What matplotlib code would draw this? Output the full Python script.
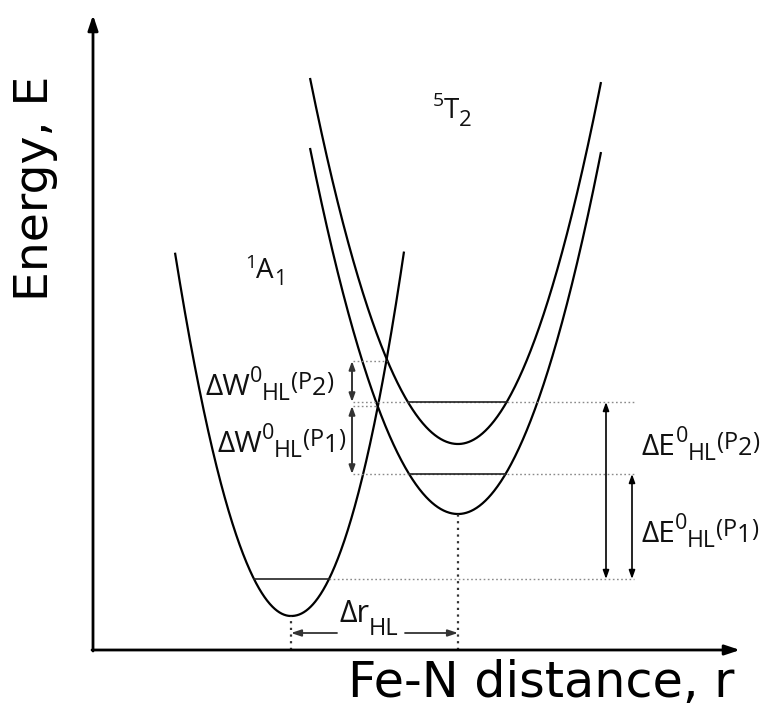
import matplotlib
matplotlib.use("Agg")
import matplotlib.pyplot as plt
import numpy as np
from matplotlib.transforms import offset_copy

# ---------------- data (arbitrary units: r and E measured from the axes origin) ----
states = ["1A1", "5T2(P1)", "5T2(P2)"]
r_eq = [198, 365, 365]          # equilibrium Fe-N distance
E_min = [34, 136, 206]          # minimum energy
k_left = [0.0270, 0.01671, 0.01671]
p_left = [2.0, 2.0, 2.0]
k_right = [0.01779, 0.0177, 0.0177]
p_right = [2.1, 2.0, 2.0]
r_start = [82, 217, 217]
r_end = [311, 508, 508]
E_zero_point = [71, 176, 248]   # zero-point levels (LS, HS P1, HS P2)
E_cross_P2 = 289                # LS / HS(P2) crossing
E_cross_P1 = 244                # LS / HS(P1) crossing
r_dim_left = 260                # start of dotted guide lines (left)
r_dim_right = 541               # end of dotted guide lines (right)
r_dW = 259                      # position of ΔW arrows
r_dE = [539, 513]               # positions of ΔE(P1), ΔE(P2) arrows
r_cross = [285, 294]            # crossing r for P1, P2
E_dr = 17                       # height of Δr arrow
r_axis_end = 647
E_axis_end = 635

fig = plt.figure(figsize=(7.73, 7.14), dpi=100)
ax = fig.add_axes([0, 0, 1, 1])
ax.set_xlim(-93, 680)
ax.set_ylim(-64, 650)
ax.axis("off")

LAB = "Open Sans"


def branch(i, r):
    d = r - r_eq[i]
    return np.where(d < 0,
                    E_min[i] + k_left[i] * np.abs(d) ** p_left[i],
                    E_min[i] + k_right[i] * np.abs(d) ** p_right[i])


def inv(i, E):
    dl = ((E - E_min[i]) / k_left[i]) ** (1 / p_left[i])
    dr = ((E - E_min[i]) / k_right[i]) ** (1 / p_right[i])
    return r_eq[i] - dl, r_eq[i] + dr


# axes arrows
ax.annotate("", xy=(r_axis_end, 0), xytext=(-1, 0),
            arrowprops=dict(arrowstyle="-|>,head_length=0.9,head_width=0.3", lw=2.0,
                            color="black", shrinkA=0, shrinkB=0))
ax.annotate("", xy=(0, E_axis_end), xytext=(0, -1),
            arrowprops=dict(arrowstyle="-|>,head_length=0.9,head_width=0.3", lw=2.0,
                            color="black", shrinkA=0, shrinkB=0))

# potential curves
for i in range(3):
    r = np.linspace(r_start[i], r_end[i], 600)
    ax.plot(r, branch(i, r), color="black", lw=1.6, solid_capstyle="butt")

dot = dict(color="#8a8a8a", lw=1.0, linestyle=(0, (1.2, 1.8)))

# dotted guide lines
rl, rr = inv(0, E_zero_point[0])
ax.plot([rr, r_dim_right], [E_zero_point[0]] * 2, **dot)
ax.plot([r_dim_left, r_dim_right], [E_zero_point[1]] * 2, **dot)
ax.plot([r_dim_left, r_dim_right + 2], [E_zero_point[2]] * 2, **dot)
ax.plot([r_dim_left, r_cross[0]], [E_cross_P1] * 2, **dot)
ax.plot([r_dim_left, r_cross[1]], [E_cross_P2] * 2, **dot)

# zero point level segments
for i in range(3):
    a, b = inv(i, E_zero_point[i])
    ax.plot([a, b], [E_zero_point[i]] * 2, color="#222222", lw=1.2)

# vertical dotted lines at minima
vdot = dict(color="#333333", lw=1.6, linestyle=(0, (1, 2)))
ax.plot([r_eq[0], r_eq[0]], [0, E_min[0]], **vdot)
ax.plot([r_eq[1], r_eq[1]], [0, E_min[1]], **vdot)


def darrow(x, y0, y1, color="black", lw=1.2):
    ax.annotate("", xy=(x, y1), xytext=(x, y0),
                arrowprops=dict(arrowstyle="<|-|>,head_length=0.5,head_width=0.18",
                                lw=lw, color=color, shrinkA=0, shrinkB=0))


darrow(r_dW, E_zero_point[2], E_cross_P2, color="#333333", lw=1.4)
darrow(r_dW, E_zero_point[1], E_cross_P1, color="#333333", lw=1.4)
darrow(r_dE[1], E_zero_point[0], E_zero_point[2])
darrow(r_dE[0], E_zero_point[0], E_zero_point[1])

# Δr arrows
for x0, x1 in [(244, r_eq[0]), (312, r_eq[1])]:
    ax.annotate("", xy=(x1, E_dr), xytext=(x0, E_dr),
                arrowprops=dict(arrowstyle="-|>,head_length=0.6,head_width=0.2",
                                lw=1.3, color="#333333", shrinkA=0, shrinkB=0))

renderer = fig.canvas.get_renderer()


def rich(x, y, pieces, family=LAB):
    dx = 0.0
    for s, size, dy in pieces:
        t = ax.text(x, y, s, fontsize=size, family=family, ha="left", va="baseline",
                    color="#111111",
                    transform=offset_copy(ax.transData, fig=fig, x=dx, y=dy, units="dots"))
        dx += t.get_window_extent(renderer=renderer).width


def dlabel(x, y, sym, p):
    rich(x, y, [("Δ" + sym, 21.5, 0), ("0", 15.5, 13), ("HL", 16.5, -5),
                ("(P", 17, 6), (p, 18, 0), (")", 17, 6)])


dlabel(112, 255, "W", "2")
dlabel(124, 198, "W", "1")
dlabel(549, 195, "E", "2")
dlabel(548, 108, "E", "1")
rich(246, 28, [("Δr", 22, 0), ("HL", 17, -13)])
rich(152, 372, [("1", 14, 10), ("A", 20, 0), ("1", 15, -7)])
rich(340, 532, [("5", 14, 12), ("T", 20, 0), ("2", 16, -8)])

ax.text(448, -47, "Fe-N distance, r", fontsize=35.5, family="DejaVu Sans",
        ha="center", va="baseline")
ax.text(-45, 462, "Energy, E", fontsize=34, family="DejaVu Sans",
        ha="center", va="baseline", rotation=90, rotation_mode="anchor")

fig.savefig("out.png", dpi=100)
